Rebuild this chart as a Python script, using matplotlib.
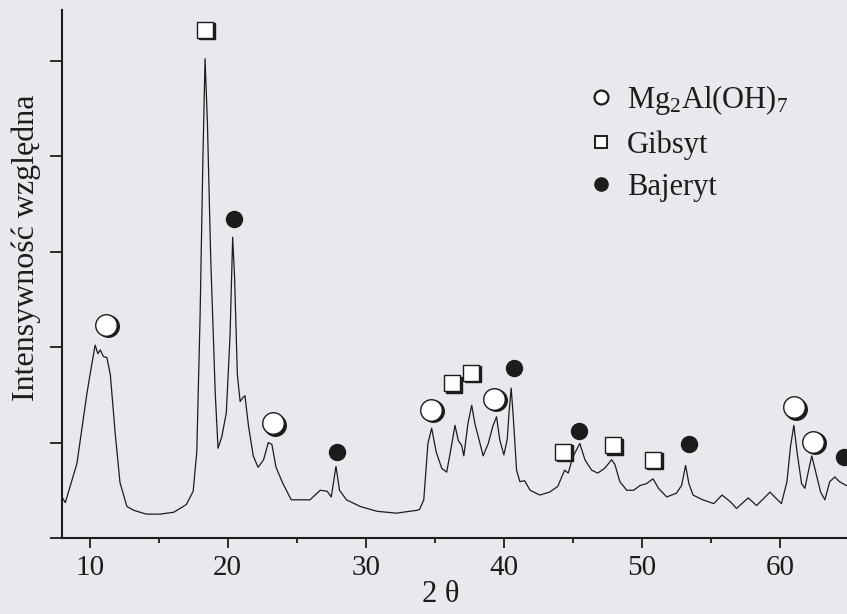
import matplotlib
matplotlib.use("Agg")
import matplotlib.pyplot as plt
import matplotlib.transforms as mtransforms
from matplotlib.lines import Line2D

# ---- data ----
two_theta = [8.0, 8.24, 9.08, 9.8, 10.17, 10.4, 10.6, 10.77, 11.0, 11.25, 11.5, 11.85, 12.2, 12.7,
             13.2, 14.1, 15.1, 16.1, 17.0, 17.5, 17.76, 18.0, 18.2, 18.36, 18.53, 18.77, 19.1, 19.3,
             19.57, 19.9, 20.17, 20.36, 20.5, 20.7, 20.9, 21.1, 21.25, 21.5, 21.85, 22.2, 22.6, 22.94,
             23.2, 23.5, 24.0, 24.6, 25.0, 25.96, 26.7, 27.2, 27.5, 27.84, 28.1, 28.6, 29.6, 30.8,
             32.2, 33.7, 33.9, 34.2, 34.5, 34.77, 35.1, 35.5, 35.86, 36.2, 36.46, 36.7, 36.94, 37.1,
             37.4, 37.67, 37.9, 38.27, 38.5, 38.87, 39.2, 39.47, 39.7, 40.0, 40.24, 40.39, 40.53,
             40.68, 40.92, 41.16, 41.5, 41.9, 42.6, 43.3, 43.9, 44.4, 44.66, 45.0, 45.5, 45.87,
             46.36, 46.8, 47.3, 47.8, 48.04, 48.4, 48.9, 49.4, 49.86, 50.34, 50.8, 51.2, 51.8, 52.5,
             52.87, 53.16, 53.4, 53.7, 54.4, 55.2, 55.8, 56.4, 56.85, 57.7, 58.3, 59.27, 60.1, 60.5,
             60.76, 61.0, 61.25, 61.56, 61.8, 62.1, 62.3, 62.6, 62.94, 63.25, 63.6, 63.97, 64.3, 64.8]
intensity = [0.43, 0.37, 0.78, 1.51, 1.83, 2.02, 1.93, 1.97, 1.90, 1.89, 1.71, 1.10, 0.58, 0.33,
             0.29, 0.25, 0.25, 0.27, 0.35, 0.49, 0.90, 2.32, 3.94, 5.02, 4.35, 2.93, 1.51, 0.94,
             1.06, 1.31, 2.12, 3.15, 2.72, 1.71, 1.43, 1.47, 1.49, 1.18, 0.86, 0.74, 0.82, 1.00,
             0.98, 0.74, 0.57, 0.40, 0.40, 0.40, 0.50, 0.49, 0.43, 0.75, 0.50, 0.40, 0.33, 0.28,
             0.26, 0.29, 0.30, 0.40, 0.99, 1.15, 0.90, 0.73, 0.69, 0.96, 1.18, 1.02, 0.97, 0.86,
             1.20, 1.39, 1.20, 0.99, 0.86, 0.99, 1.17, 1.27, 1.03, 0.87, 1.03, 1.34, 1.57,
             1.27, 0.71, 0.59, 0.60, 0.50, 0.45, 0.48, 0.54, 0.71, 0.68, 0.85, 0.99, 0.82,
             0.71, 0.68, 0.73, 0.82, 0.77, 0.59, 0.50, 0.50, 0.55, 0.57, 0.62, 0.52, 0.43, 0.47,
             0.55, 0.76, 0.57, 0.45, 0.40, 0.36, 0.45, 0.38, 0.31, 0.42, 0.34, 0.48, 0.36, 0.59,
             0.96, 1.18, 0.88, 0.57, 0.52, 0.73, 0.86, 0.68, 0.48, 0.40, 0.59, 0.64, 0.59, 0.55]

# phase markers (2theta, height of the symbol)
mg_x = [11.19, 23.28, 34.70, 39.30, 61.03, 62.40]
mg_y = [2.23, 1.20, 1.34, 1.46, 1.37, 1.01]
gib_x = [18.35, 36.22, 37.62, 44.30, 47.90, 50.77]
gib_y = [5.32, 1.62, 1.73, 0.90, 0.97, 0.82]
baj_x = [20.45, 27.89, 40.73, 45.46, 53.38, 64.65]
baj_y = [3.34, 0.90, 1.78, 1.12, 0.98, 0.85]

x_ticks = [10, 20, 30, 40, 50, 60]
x_tick_labels = ["10", "20", "30", "40", "50", "60"]
y_ticks = [0, 1, 2, 3, 4, 5]
legend_labels = [r"Mg$_2$Al(OH)$_7$", "Gibsyt", "Bajeryt"]

# ---- style ----
plt.rcParams["font.family"] = ["Liberation Serif", "DejaVu Serif"]
plt.rcParams["mathtext.fontset"] = "custom"
plt.rcParams["mathtext.rm"] = "Liberation Serif"
plt.rcParams["mathtext.it"] = "Liberation Serif"
bg = "#e8e9ed"
ink = "#1c1c1c"

fig = plt.figure(figsize=(8.47, 6.14), dpi=100, facecolor=bg)
ax = fig.add_axes([62 / 847, 1 - 538 / 614, 1 - 62 / 847, (538 - 10) / 614])
ax.set_facecolor(bg)

ax.plot(two_theta, intensity, color=ink, lw=0.9, clip_on=False)

# open circles with a shadow on the lower right
shadow = mtransforms.offset_copy(ax.transData, fig=fig, x=1.4, y=-1.0, units="points")
ax.plot(mg_x, mg_y, "o", ms=15.5, mfc=ink, mec=ink, transform=shadow, clip_on=False, zorder=3)
ax.plot(mg_x, mg_y, "o", ms=15.5, mfc="white", mec=ink, mew=1.0, clip_on=False, zorder=4)
ax.plot(gib_x, gib_y, "s", ms=11.5, mfc=ink, mec=ink, transform=shadow, clip_on=False, zorder=3)
ax.plot(gib_x, gib_y, "s", ms=11.5, mfc="white", mec=ink, mew=1.0, clip_on=False, zorder=4)
ax.plot(baj_x, baj_y, "o", ms=11.5, mfc=ink, mec=ink, clip_on=False, zorder=4)

ax.set_xlim(8.0, 64.85)
ax.set_ylim(0, 5.53)
ax.set_xticks(x_ticks)
ax.set_xticklabels(x_tick_labels)
ax.set_xticks([15, 25, 35, 45, 55], minor=True)
ax.set_yticks(y_ticks)
ax.set_yticklabels([])

for s in ["top", "right"]:
    ax.spines[s].set_visible(False)
for s in ["left", "bottom"]:
    ax.spines[s].set_linewidth(1.5)
    ax.spines[s].set_color(ink)

ax.tick_params(axis="x", which="major", direction="out", length=7.5, width=1.3,
               colors=ink, labelsize=21, pad=5)
ax.tick_params(axis="x", which="minor", direction="out", length=3.8, width=1.3, colors=ink)
ax.tick_params(axis="y", which="major", direction="out", length=8.5, width=1.3, colors=ink)

ax.set_xlabel("2 θ", fontsize=22, color=ink)
ax.xaxis.set_label_coords((441 - 62) / 785, -0.08)
ax.set_ylabel("Intensywność względna", fontsize=23, color=ink)
ax.yaxis.set_label_coords(-0.027, (538 - 248) / 528)

handles = [
    Line2D([], [], ls="none", marker="o", ms=10, mfc="white", mec=ink, mew=1.6),
    Line2D([], [], ls="none", marker="s", ms=8, mfc="white", mec=ink, mew=1.4),
    Line2D([], [], ls="none", marker="o", ms=9.5, mfc=ink, mec=ink),
]
leg = ax.legend(handles, legend_labels, loc="upper left", bbox_to_anchor=(0.671, 0.862),
                frameon=False, fontsize=22, handlelength=0.8, handletextpad=0.45,
                labelspacing=0.43, borderpad=0.0, borderaxespad=0.0)
for t in leg.get_texts():
    t.set_color(ink)

fig.savefig("out.png", dpi=100, facecolor=bg)
